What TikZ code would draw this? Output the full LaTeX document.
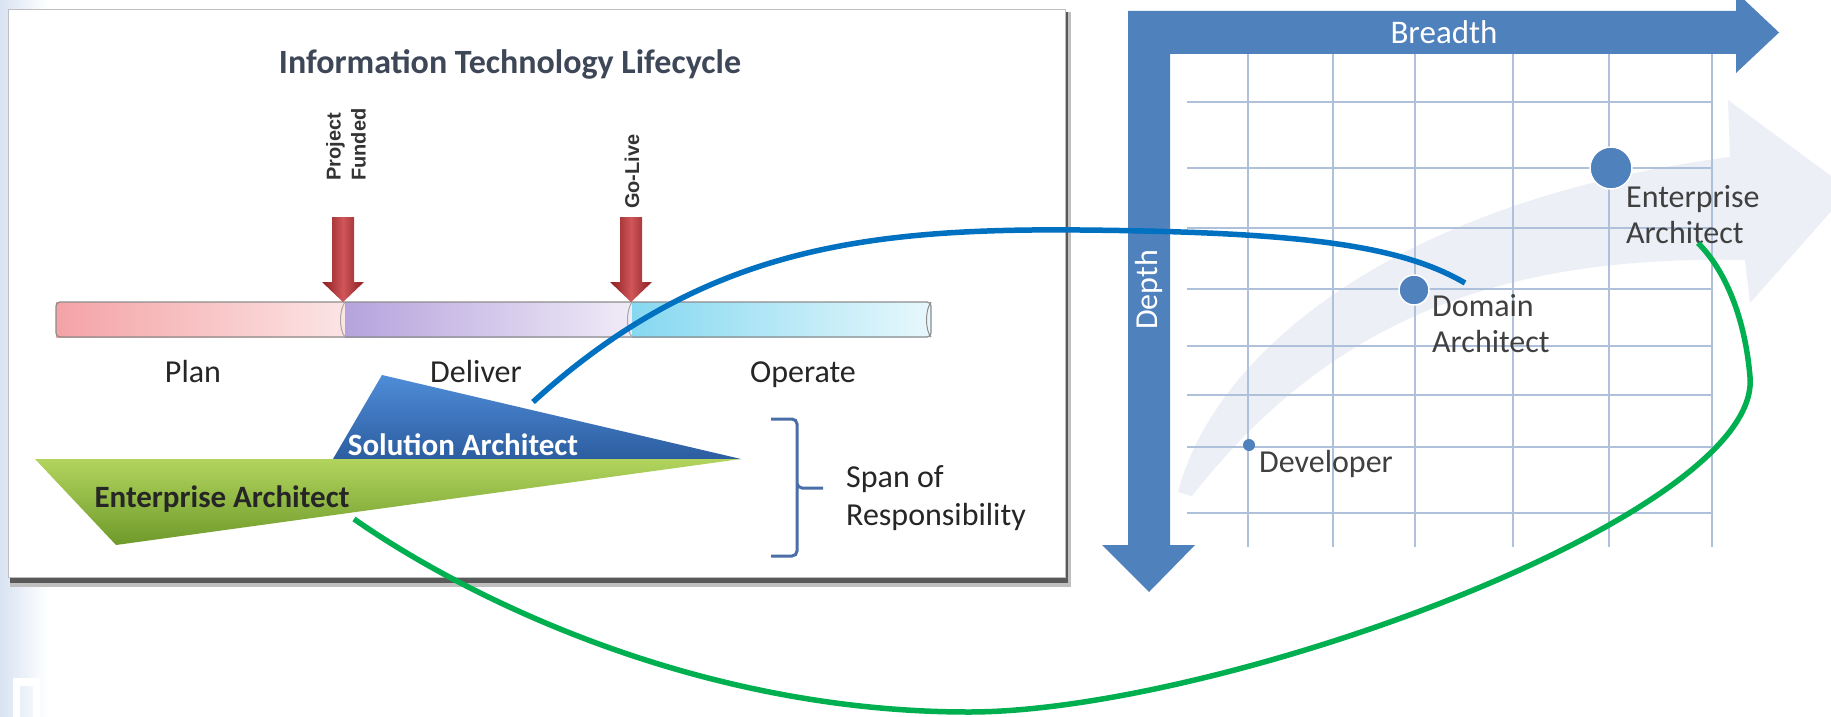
\documentclass[tikz,border=0pt]{standalone}
\usepackage{fontspec}
\setmainfont{Carlito}
\newfontfamily\markfont{Liberation Sans}
\usepackage{tikz}
\usetikzlibrary{calc}

\definecolor{slideblue}{HTML}{D9E3F3}
\definecolor{titlegray}{HTML}{3E4757}
\definecolor{axisblue}{HTML}{4F81BD}
\definecolor{gridblue}{HTML}{AEC0DA}
\definecolor{bandgray}{HTML}{ECEFF6}
\definecolor{linkblue}{HTML}{0070C0}
\definecolor{linkgreen}{HTML}{00B050}
\definecolor{markred}{HTML}{C42B2F}
\definecolor{bracegray}{HTML}{4A6EA8}
\definecolor{textgray}{HTML}{262626}
\definecolor{planleft}{HTML}{F4A3A6}
\definecolor{planright}{HTML}{FCE4E4}
\definecolor{deliverleft}{HTML}{B5A3DD}
\definecolor{deliverright}{HTML}{F0EBF7}
\definecolor{operateleft}{HTML}{86D8F1}
\definecolor{operateright}{HTML}{E7F8FC}
\definecolor{soltop}{HTML}{4F8DD8}
\definecolor{solbottom}{HTML}{2C5DA0}
\definecolor{enttop}{HTML}{B2D45E}
\definecolor{entbottom}{HTML}{6E9A2A}

\tikzset{
  phase/.style={font=\fontsize{32}{38}\selectfont, text=textgray, inner sep=0pt, anchor=base},
  role/.style={font=\fontsize{32}{36}\selectfont, text=black!75, inner sep=0pt, anchor=base west},
  milestone/.style={font=\markfont\bfseries\fontsize{20}{25}\selectfont, text=black!80, rotate=90,
                    inner sep=0pt, anchor=west, align=left},
  dot/.style={circle, fill=axisblue, draw=white, line width=1.5pt, inner sep=0pt},
  link/.style={line width=5.5pt},
}

\begin{document}
\begin{tikzpicture}[x=1pt,y=-1pt]
      \useasboundingbox (0,0) rectangle (1831,717);

      % Slide background
      \fill[white] (0,0) rectangle (1831,717);
      \shade[left color=slideblue, right color=white] (0,0) rectangle (48,717);
      \fill[white] (13,717) -- (13,678) -- (40,678) -- (40,717) -- (33,717) -- (33,686)
                   -- (20,686) -- (20,717) -- cycle;

      % Lifecycle panel
      \fill[black!25] (10,12) rectangle (1071,587);
      \fill[black!65] (10,12) rectangle (1068,583);
      \draw[black!25, fill=white] (8,9) rectangle (1065,577);
      \node[font=\bfseries\fontsize{34}{40}\selectfont, text=titlegray, inner sep=0pt]
            (title) at (510,64) {Information Technology Lifecycle};

      % Phase bar
      \shade[left color=planleft, right color=planright] (56,302) rectangle (345,337);
      \shade[left color=deliverleft, right color=deliverright] (345,302) rectangle (632,337);
      \shade[left color=operateleft, right color=operateright] (632,302) rectangle (931,337);
      \draw[black!45, line width=1.2pt, rounded corners=4pt] (56,302) rectangle (931,337);
      \draw[black!35, line width=1pt] (345,302) .. controls (339,310) and (339,330) .. (345,337);
      \draw[black!35, line width=1pt] (632,302) .. controls (626,310) and (626,330) .. (632,337);
      \draw[black!45, line width=1pt] (931,302) .. controls (925,310) and (925,330) .. (931,337);

      % Milestones
      \foreach \x/\name in {343/funded, 631/live}{
            \coordinate (\name) at (\x,302);
            \shade[left color=markred!70!black, right color=markred!70!black, middle color=markred!80!white]
                  ($(\name)+(-11,-85)$) -- ++(22,0) -- ++(0,65) -- ++(10,0) -- (\name)
                  -- ++(-21,-20) -- ++(10,0) -- cycle;
      }
      \node[milestone] (fundedtxt) at (346,181) {Project\\Funded};
      \node[milestone] (livetxt) at (632,209) {Go-Live};

      \node[phase] (plan) at (193,382) {Plan};
      \node[phase] (deliver) at (476,382) {Deliver};
      \node[phase] (operate) at (803,382) {Operate};

      % Span triangles
      \shade[top color=soltop, bottom color=solbottom]
            (382,375) -- (333,459) -- (741,459) -- cycle;
      \shade[top color=enttop, bottom color=entbottom]
            (35,459) -- (741,459) -- (116,545) -- cycle;
      \node[font=\bfseries\fontsize{31}{36}\selectfont, text=white, inner sep=0pt, anchor=base]
            (solution) at (463,455) {Solution Architect};
      \node[font=\bfseries\fontsize{31}{36}\selectfont, text=black!85, inner sep=0pt, anchor=base]
            (enterprise) at (222,507) {Enterprise Architect};

      % Brace
      \draw[bracegray, line width=3pt, rounded corners=5pt] (771,419) -| (797,488) -- (823,488)
            (797,480) |- (771,556);
      \node[phase, anchor=base west] (span) at (846,487) {Span of};
      \node[phase, anchor=base west] (resp) at (846,525) {Responsibility};

      % Growth band
      \fill[bandgray] (1178,492) .. controls (1215,350) and (1400,200) .. (1730,157)
            -- (1728,100) -- (1850,190) -- (1750,303) -- (1745,260)
            .. controls (1500,255) and (1330,320) .. (1192,496) -- cycle;

      % Grid
      \foreach \x in {1248,1333,1415,1513,1609,1712}
            \draw[gridblue, line width=1.8pt] (\x,54) -- (\x,547);
      \foreach \y in {102,168,228,289,346,395,447,513}
            \draw[gridblue, line width=1.8pt] (1187,\y) -- (1712,\y);

      % Axes
      \fill[axisblue] (1128,11) -- (1736,11) -- (1736,-8) -- (1779,32.5) -- (1736,73) -- (1736,54)
            -- (1170,54) -- (1170,545) -- (1195,545) -- (1149,592) -- (1102,545) -- (1128,545) -- cycle;
      \node[font=\fontsize{33}{38}\selectfont, text=white, inner sep=0pt, anchor=base]
            (breadth) at (1444,44) {Breadth};
      \node[font=\fontsize{32}{38}\selectfont, text=white, inner sep=0pt, rotate=90]
            (depth) at (1149,290) {Depth};

      % Roles
      \node[dot, minimum size=12pt, draw=none] (devdot) at (1249,445) {};
      \node[dot, minimum size=30pt] (domdot) at (1414,290) {};
      \node[dot, minimum size=42pt] (entdot) at (1611,168) {};
      \node[role] (developer) at (1259,472) {Developer};
      \node[role] (domain) at (1432,316) {Domain};
      \node[role] (domainarch) at (1432,352) {Architect};
      \node[role] (entname) at (1626,207) {Enterprise};
      \node[role] (entarch) at (1626,243) {Architect};

      % Links
      \coordinate (solhook) at (533,402);
      \coordinate (domhook) at (1465,283);
      \coordinate (enthook) at (354,519);
      \coordinate (archhook) at (1698,243);
      \draw[link, linkblue] (solhook) .. controls (700,250) and (860,228) .. (1080,230)
            .. controls (1300,232) and (1400,245) .. (domhook);
      \draw[link, linkgreen] (enthook) .. controls (470,600) and (700,712) .. (969,712)
            .. controls (1220,712) and (1762,515) .. (1750,377)
            .. controls (1745,317) and (1725,270) .. (archhook);
\end{tikzpicture}
\end{document}
